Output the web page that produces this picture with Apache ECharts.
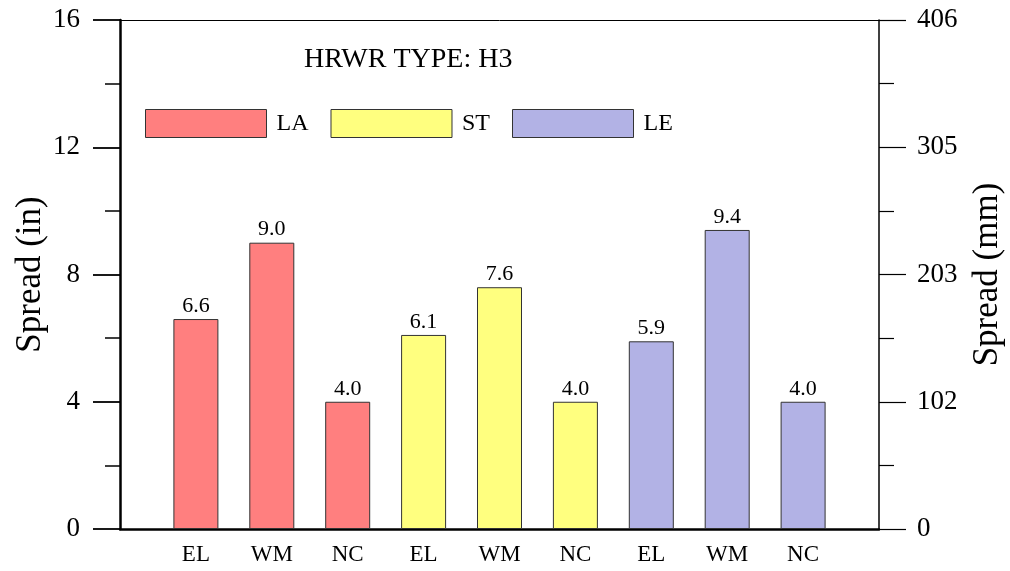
<!DOCTYPE html>
<html>
<head>
<meta charset="utf-8">
<script src="https://cdn.jsdelivr.net/npm/echarts@6/dist/echarts.min.js"></script>
<style>html,body{margin:0;padding:0;background:#fff}#c{width:1010px;height:571px}</style>
</head>
<body>
<div id="c"></div>
<script>
const categories = ['EL','WM','NC','EL','WM','NC','EL','WM','NC'];
const groups = ['LA','ST','LE'];
const laValues = [6.6, 9.0, 4.0];
const stValues = [6.1, 7.6, 4.0];
const leValues = [5.9, 9.4, 4.0];
const leftTicks = [0, 4, 8, 12, 16];
const rightTickLabels = ['0', '102', '203', '305', '406'];
const colors = ['#FF7F7F', '#FFFF7F', '#B2B2E5'];
const titleText = 'HRWR TYPE: H3';

const FONT = 'Liberation Serif';
const groupValues = [laValues, stValues, leValues];

const series = groups.map((g, gi) => ({
  name: g,
  type: 'bar',
  barWidth: 45,
  barGap: '-100%',
  itemStyle: { color: colors[gi], borderColor: '#333', borderWidth: 1 },
  label: {
    show: true, position: 'top', distance: 2,
    fontFamily: FONT, fontSize: 22, color: '#000',
    formatter: p => p.value[1].toFixed(1)
  },
  data: groupValues[gi].map((v, i) => [gi * 3 + i + 1, v])
}));

const chart = echarts.init(document.getElementById('c'));
chart.setOption({
  animation: false,
  backgroundColor: '#fff',
  title: {
    text: titleText, left: 304, top: 46, padding: 0,
    textStyle: { fontFamily: FONT, fontSize: 28, fontWeight: 'normal', color: '#000' }
  },
  legend: {
    data: groups, left: 145, top: 109, padding: 0,
    itemWidth: 121, itemHeight: 28, itemGap: 22,
    icon: 'rect',
    itemStyle: { borderColor: '#333', borderWidth: 1 },
    textStyle: { fontFamily: FONT, fontSize: 24, color: '#000', padding: [0, 0, 0, 5] }
  },
  grid: { left: 120, right: 131, top: 20, bottom: 42, outerBoundsMode: 'none', containLabel: false },
  xAxis: [{
    type: 'value', min: 0, max: categories.length + 1, interval: 1,
    splitLine: { show: false },
    axisLine: { onZero: false, lineStyle: { color: '#000', width: 2.5 } },
    axisTick: { show: false },
    axisLabel: {
      margin: 14, fontFamily: FONT, fontSize: 23, color: '#000',
      formatter: v => categories[v - 1] || ''
    }
  }, {
    type: 'value', position: 'top', min: 0, max: categories.length + 1,
    splitLine: { show: false },
    axisLine: { show: true, onZero: false, lineStyle: { color: '#000', width: 1 } },
    axisTick: { show: false }, axisLabel: { show: false }
  }],
  yAxis: [{
    type: 'value', min: leftTicks[0], max: leftTicks[leftTicks.length - 1], interval: leftTicks[1] - leftTicks[0],
    name: 'Spread (in)', nameLocation: 'middle', nameGap: 72, nameMoveOverlap: false,
    nameTextStyle: { fontFamily: FONT, fontSize: 35, color: '#000' },
    splitLine: { show: false },
    axisLine: { show: true, onZero: false, lineStyle: { color: '#000', width: 2.5 } },
    axisTick: { show: true, length: 27, lineStyle: { color: '#000', width: 1.8 } },
    minorTick: { show: true, splitNumber: 2, length: 15, lineStyle: { color: '#000', width: 1.5 } },
    axisLabel: { margin: 40, fontFamily: FONT, fontSize: 27, color: '#000' }
  }, {
    type: 'value', position: 'right', min: 0, max: 406, interval: 101.5,
    name: 'Spread (mm)', nameLocation: 'middle', nameGap: 91, nameMoveOverlap: false,
    nameTextStyle: { fontFamily: FONT, fontSize: 35, color: '#000' },
    splitLine: { show: false },
    axisLine: { show: true, onZero: false, lineStyle: { color: '#000', width: 1.5 } },
    axisTick: { show: true, length: 27, lineStyle: { color: '#000', width: 1.2 } },
    minorTick: { show: true, splitNumber: 2, length: 15, lineStyle: { color: '#000', width: 1.2 } },
    axisLabel: { margin: 38, fontFamily: FONT, fontSize: 27, color: '#000',
      formatter: (v, i) => rightTickLabels[i] }
  }],
  series: series
});
</script>
</body>
</html>
